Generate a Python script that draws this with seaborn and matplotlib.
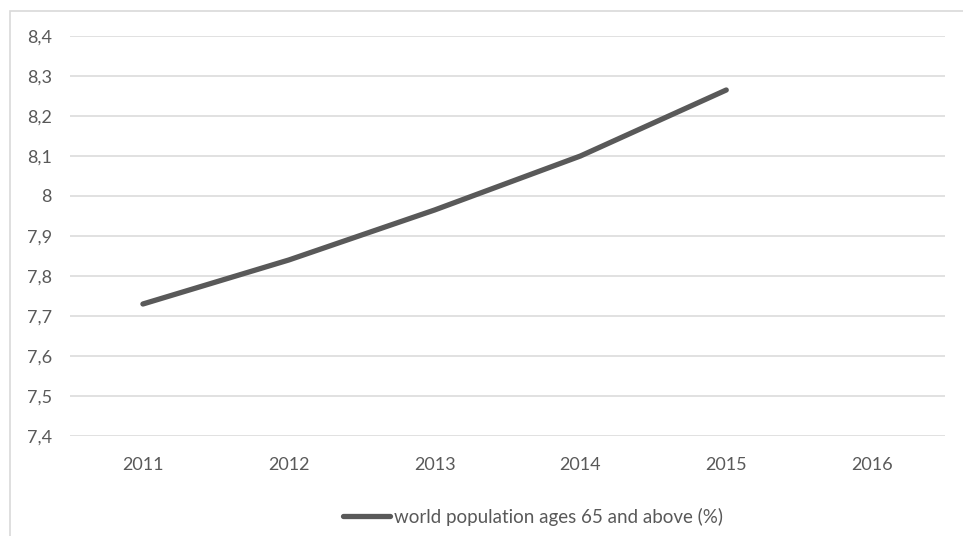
import numpy as np
import pandas as pd
import matplotlib
matplotlib.use("Agg")
import matplotlib.pyplot as plt
import seaborn as sns
from matplotlib.patches import Rectangle
from matplotlib.lines import Line2D
from matplotlib.ticker import FuncFormatter

years = ["2011", "2012", "2013", "2014", "2015", "2016"]
share_65_plus = [7.73, 7.84, 7.965, 8.10, 8.265, np.nan]
series_name = "world population ages 65 and above (%)"
y_ticks = [7.4, 7.5, 7.6, 7.7, 7.8, 7.9, 8.0, 8.1, 8.2, 8.3, 8.4]

sns.set_theme(style="white")
plt.rcParams["font.family"] = ["Lato", "DejaVu Sans"]

TEXT = "#595959"
GRID = "#d9d9d9"
LINE = "#595959"
FS = 13

df = pd.DataFrame({"pos": np.arange(len(years)), "year": years, "value": share_65_plus})

W, H = 963, 536
fig = plt.figure(figsize=(W / 100, H / 100), dpi=100)
fig.patch.set_facecolor("white")

# chart frame (extends past the right and bottom edges)
fig.patches.append(Rectangle((10 / W, -0.1), 1.2, 1 - 11 / H + 0.1,
                             transform=fig.transFigure, fill=False,
                             edgecolor=GRID, linewidth=1.2))

ax = fig.add_axes([70 / W, 1 - 436 / H, (945 - 70) / W, (436 - 36) / H])
sns.lineplot(data=df.dropna(), x="pos", y="value", ax=ax, color=LINE,
             linewidth=3.8, solid_capstyle="round", legend=False)

ax.set_xlim(-0.5, len(years) - 0.5)
ax.set_ylim(min(y_ticks), max(y_ticks))
ax.set_xticks(df["pos"], df["year"])
ax.set_yticks(y_ticks)
ax.yaxis.set_major_formatter(FuncFormatter(lambda v, _: f"{v:g}".replace(".", ",")))
ax.set_xlabel("")
ax.set_ylabel("")

for y in y_ticks:
    ax.axhline(y, color=GRID, linewidth=1.1, zorder=0)

for s in ax.spines.values():
    s.set_visible(False)
ax.tick_params(axis="both", length=0, labelsize=FS, labelcolor=TEXT)
ax.tick_params(axis="y", pad=13)
ax.tick_params(axis="x", pad=15)

handle = Line2D([], [], color=LINE, linewidth=3.8, solid_capstyle="round")
fig.legend([handle], [series_name], loc="center", bbox_to_anchor=(533 / W, 1 - 517 / H),
           frameon=False, fontsize=13.5, labelcolor=TEXT, handlelength=2.5,
           handletextpad=0.2, borderpad=0)

fig.savefig("out.png", dpi=100, facecolor="white")
